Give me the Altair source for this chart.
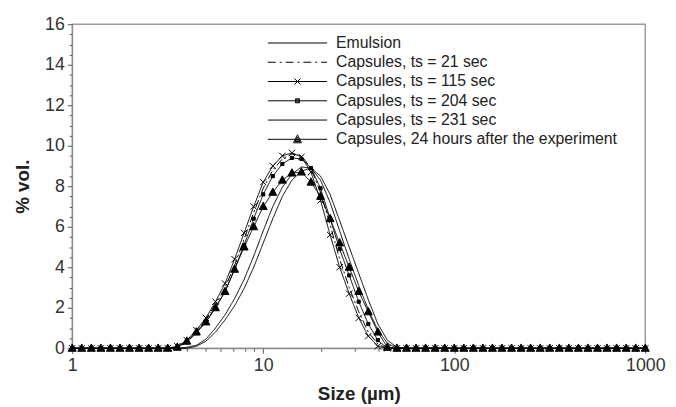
import altair as alt
import pandas as pd

# particle size classes (um), log spaced like the laser diffraction output
SIZES = [
    1.000, 1.122, 1.259, 1.413, 1.585, 1.778, 1.995, 2.239, 2.512, 2.818,
    3.162, 3.548, 3.981, 4.467, 5.012, 5.623, 6.310, 7.079, 7.943, 8.913,
    10.00, 11.22, 12.59, 14.13, 15.85, 17.78, 19.95, 22.39, 25.12, 28.18,
    31.62, 35.48, 39.81, 44.67, 50.12, 56.23, 63.10, 70.79, 79.43, 89.13,
    100.0, 112.2, 125.9, 141.3, 158.5, 177.8, 199.5, 223.9, 251.2, 281.8,
    316.2, 354.8, 398.1, 446.7, 501.2, 562.3, 631.0, 707.9, 794.3, 891.3,
    1000.0,
]

SERIES = [
    "\u00a0Emulsion",
    "Capsules, ts = 21 sec",
    "\u00a0Capsules, ts = 115 sec",
    "Capsules, ts = 204 sec",
    "Capsules, ts = 231 sec",
    "Capsules, 24 hours after the experiment",
]

emulsion = [
    0, 0, 0, 0, 0, 0, 0, 0, 0, 0,
    0, 0, 0.05, 0.15, 0.45, 1.0, 1.65, 2.45, 3.4, 4.55,
    5.8, 7.0, 7.95, 8.6, 8.95, 8.9, 8.3, 7.2, 5.8, 4.4,
    3.1, 1.9, 0.9, 0.25, 0, 0, 0, 0, 0, 0,
    0, 0, 0, 0, 0, 0, 0, 0, 0, 0,
    0, 0, 0, 0, 0, 0, 0, 0, 0, 0,
    0,
]
ts21 = [
    0, 0, 0, 0, 0, 0, 0, 0, 0, 0,
    0, 0.05, 0.3, 0.8, 1.4, 2.1, 3.0, 4.1, 5.4, 6.7,
    7.9, 8.8, 9.35, 9.6, 9.5, 8.9, 7.7, 6.1, 4.4, 3.0,
    1.8, 0.8, 0.2, 0, 0, 0, 0, 0, 0, 0,
    0, 0, 0, 0, 0, 0, 0, 0, 0, 0,
    0, 0, 0, 0, 0, 0, 0, 0, 0, 0,
    0,
]
ts115 = [
    0, 0, 0, 0, 0, 0, 0, 0, 0, 0,
    0, 0.1, 0.4, 0.9, 1.5, 2.3, 3.2, 4.4, 5.7, 7.0,
    8.2, 9.0, 9.5, 9.65, 9.45, 8.7, 7.3, 5.6, 4.0, 2.7,
    1.5, 0.6, 0.1, 0, 0, 0, 0, 0, 0, 0,
    0, 0, 0, 0, 0, 0, 0, 0, 0, 0,
    0, 0, 0, 0, 0, 0, 0, 0, 0, 0,
    0,
]
ts204 = [
    0, 0, 0, 0, 0, 0, 0, 0, 0, 0,
    0, 0.05, 0.3, 0.75, 1.3, 2.0, 2.8, 3.9, 5.1, 6.4,
    7.6, 8.5, 9.1, 9.4, 9.35, 8.9, 7.9, 6.4, 4.9, 3.6,
    2.3, 1.2, 0.4, 0, 0, 0, 0, 0, 0, 0,
    0, 0, 0, 0, 0, 0, 0, 0, 0, 0,
    0, 0, 0, 0, 0, 0, 0, 0, 0, 0,
    0,
]
ts231 = [
    0, 0, 0, 0, 0, 0, 0, 0, 0, 0,
    0, 0, 0, 0.1, 0.35, 0.8, 1.4, 2.1, 2.95, 4.0,
    5.2, 6.4, 7.5, 8.3, 8.75, 8.9, 8.5, 7.6, 6.3, 5.0,
    3.7, 2.4, 1.2, 0.4, 0.05, 0, 0, 0, 0, 0,
    0, 0, 0, 0, 0, 0, 0, 0, 0, 0,
    0, 0, 0, 0, 0, 0, 0, 0, 0, 0,
    0,
]
h24 = [
    0, 0, 0, 0, 0, 0, 0, 0, 0, 0,
    0, 0.05, 0.35, 0.8, 1.3, 2.0, 2.8, 3.9, 5.0, 6.0,
    7.0, 7.7, 8.3, 8.65, 8.7, 8.2, 7.5, 6.4, 5.2, 4.0,
    2.8, 1.8, 0.8, 0.05, 0, 0, 0, 0, 0, 0,
    0, 0, 0, 0, 0, 0, 0, 0, 0, 0,
    0, 0, 0, 0, 0, 0, 0, 0, 0, 0,
    0,
]

X_TICKS = [1, 2, 3, 4, 5, 6, 7, 8, 9, 10, 20, 30, 40, 50, 60, 70, 80, 90,
           100, 200, 300, 400, 500, 600, 700, 800, 900, 1000]
Y_TICKS = [v / 2 for v in range(0, 33)]

rows = []
for name, vals in zip(SERIES, [emulsion, ts21, ts115, ts204, ts231, h24]):
    for s, v in zip(SIZES, vals):
        rows.append({"size": s, "vol": v, "series": name})
df = pd.DataFrame(rows)

DASHES = [[1, 0], [8, 3, 2, 3], [1, 0], [1, 0], [1, 0], [1, 0]]

# plot markers (mark size 64 -> 4px per path unit)
MARKED = [SERIES[2], SERIES[3], SERIES[5]]
MARK_SHAPES = [
    "M-0.8,-0.8L0.8,0.8M-0.8,0.8L0.8,-0.8",
    "M-0.4,-0.4H0.4V0.4H-0.4Z",
    "M0,-1.1L1,0.75H-1Z",
]

# legend samples: a 60px line with the marker drawn in strokes only
LEGEND_PATHS = [
    "M-6,0H6",
    "M-6,0H-4.4M-3.6,0H-3.2M-2.4,0H-0.8M0,0H0.4M1.2,0H2.8M3.6,0H4M4.8,0H6",
    "M-6,0H6M-0.6,-0.6L0.6,0.6M-0.6,0.6L0.6,-0.6",
    "M-6,0H6M-0.4,-0.4H0.4V0.4H-0.4ZM-0.4,-0.2H0.4M-0.4,0.2H0.4",
    "M-6,0H6",
    "M-6,0H6M0,-0.9L0.8,0.7H-0.8ZM0,-0.45L0.5,0.45H-0.5ZM0,0L0.25,0.45H-0.25Z",
]

FONT = "Liberation Sans"
MAJOR_X = "indexof([1, 10, 100, 1000], datum.value) >= 0"

x = alt.X(
    "size:Q",
    scale=alt.Scale(type="log", domain=[1, 1000]),
    axis=alt.Axis(
        title="Size (\u00b5m)", values=X_TICKS, grid=False, labelFlush=False,
        labelExpr=MAJOR_X + " ? format(datum.value, 'd') : ''",
        tickSize={"condition": {"test": MAJOR_X, "value": 5}, "value": 3},
        titlePadding=11,
    ),
)
y = alt.Y(
    "vol:Q",
    scale=alt.Scale(domain=[0, 16]),
    axis=alt.Axis(
        title="% vol.", values=Y_TICKS, grid=False,
        labelExpr="datum.value % 2 == 0 ? format(datum.value, 'd') : ''",
        tickSize={"condition": {"test": "datum.value % 2 == 0", "value": 5}, "value": 3},
        titlePadding=12,
    ),
)

base = alt.Chart(df)

lines = base.mark_line(color="black", strokeWidth=1).encode(
    x=x, y=y,
    strokeDash=alt.StrokeDash("series:N", scale=alt.Scale(domain=SERIES, range=DASHES), legend=None),
)

points = base.transform_filter(
    alt.FieldOneOfPredicate(field="series", oneOf=MARKED)
).mark_point(
    filled=True, fill="black", stroke="black", strokeWidth=1, opacity=1, size=64
).encode(
    x=x, y=y,
    shape=alt.Shape("series:N", scale=alt.Scale(domain=MARKED, range=MARK_SHAPES), legend=None),
)

legend_layer = base.transform_filter("datum.vol < -1").mark_point(
    filled=False, color="black", strokeWidth=1, opacity=1
).encode(
    x=x, y=y,
    shape=alt.Shape(
        "series:N",
        scale=alt.Scale(domain=SERIES, range=LEGEND_PATHS),
        legend=alt.Legend(
            title=None, orient="none", legendX=220, legendY=11, padding=0,
            symbolSize=100, symbolStrokeWidth=1, symbolStrokeColor="black",
            symbolOpacity=1,
            labelOffset=31, labelFont=FONT, labelFontSize=16, labelColor="#222",
            labelLimit=500, rowPadding=3.5,
        ),
    ),
)

chart = alt.layer(lines, points, legend_layer).resolve_scale(
    shape="independent"
).properties(
    width=580, height=328,
    autosize=alt.AutoSizeParams(type="none"),
    padding={"left": 65, "top": 14, "right": 23, "bottom": 57},
).configure_view(
    stroke="#9a9a9a", strokeWidth=1.5
).configure_axis(
    domainColor="#8a8a8a", tickColor="#555", labelFont=FONT, labelFontSize=18,
    labelColor="#333", titleFont=FONT, titleFontSize=19, titleFontWeight="bold",
    titleColor="#222", labelPadding=3,
)

chart.save("out.html", embed_options={"renderer": "svg", "actions": False})
